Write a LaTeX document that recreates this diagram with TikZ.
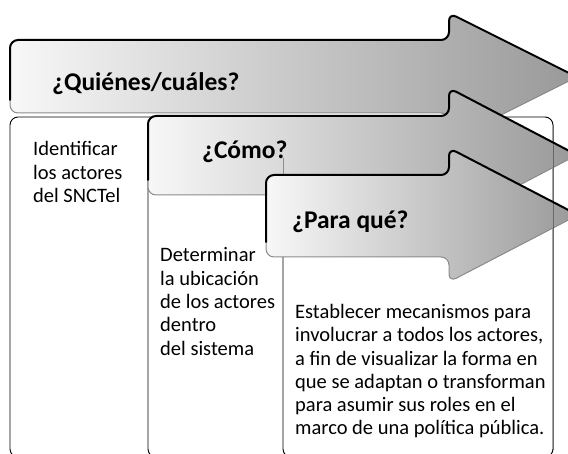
\documentclass[tikz,border=0pt]{standalone}
\usepackage{fontspec}
\setmainfont{Carlito}
\begin{document}
\begin{tikzpicture}[x=1pt,y=-1pt,
 arrowfill/.style={left color=black!3, right color=black!40, draw=none, rounded corners=8pt},
 topline/.style={draw=black, line width=2pt, rounded corners=8pt, line cap=round, line join=round},
 lowline/.style={draw=black!45, line width=1pt, rounded corners=8pt},
 boxline/.style={draw=black, line width=0.9pt, rounded corners=8pt},
 ghostline/.style={draw=black, draw opacity=0.35, line width=0.9pt},
 headtxt/.style={font=\fontsize{25.5}{28}\selectfont\bfseries, inner sep=0pt, anchor=base west},
 bodytxt/.style={font=\fontsize{20.5}{23.3}\selectfont, inner sep=0pt, anchor=base west, align=left}]
\useasboundingbox (0,0) rectangle (568,454);
\clip (0,0) rectangle (568,454);
% boxes
\draw[boxline] (10,117) rectangle (553,457);
\draw[boxline] (148,130) -- (148,457) -- (553,457);
\draw[boxline] (283,150) -- (283,457) -- (553,457);
% arrow 1
\fill[arrowfill] (449,40) -- (10,40) -- (10,113) -- (449,113) -- (449,141) -- (577,77) -- (449,13) -- cycle;
\draw[lowline] (577,77) -- (449,141) -- (449,113) -- (10,113) -- (10,100);
\draw[topline] (10,100) -- (10,40) -- (449,40) -- (449,13) -- (577,77);
\node[headtxt] (q1) at (52,91) {¿Quiénes/cuáles?};
% arrow 2
\fill[arrowfill] (449,116) -- (148,116) -- (148,195) -- (449,195) -- (449,222) -- (577,155) -- (449,88) -- cycle;
\draw[lowline] (577,155) -- (449,222) -- (449,195) -- (148,195) -- (148,180);
\draw[topline] (148,180) -- (148,116) -- (449,116) -- (449,88) -- (577,155);
\node[headtxt] (q2) at (202,159) {¿Cómo?};
\draw[ghostline] (283,158) -- (283,175);
% arrow 3
\fill[arrowfill] (449,175) -- (266,175) -- (266,257) -- (449,257) -- (449,282) -- (578,215) -- (449,148) -- cycle;
\draw[lowline] (578,215) -- (449,282) -- (449,257) -- (266,257) -- (266,242);
\draw[topline] (266,242) -- (266,175) -- (449,175) -- (449,148) -- (578,215);
\node[headtxt] (q3) at (292,229) {¿Para qué?};
% right edge seen through the arrows
\draw[ghostline] (553,125) -- (553,450);
% texts (base anchor = baseline of the last line)
\node[bodytxt] (t1) at (33,202.6) {Identificar\\los actores\\del SNCTel};
\node[bodytxt] (t2) at (160,355.2) {Determinar\\la ubicación\\de los actores\\dentro\\del sistema};
\node[bodytxt] (t3) at (295,435) {Establecer mecanismos para\\involucrar a todos los actores,\\a fin de visualizar la forma en\\que se adaptan o transforman\\para asumir sus roles en el\\marco de una política pública.};
\end{tikzpicture}
\end{document}
